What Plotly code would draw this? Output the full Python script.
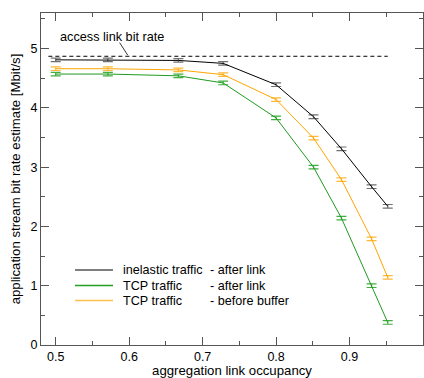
import plotly.graph_objects as go

occupancy = [0.5, 0.571, 0.667, 0.728, 0.8, 0.851, 0.889, 0.93, 0.952]
inelastic_after = [4.81, 4.81, 4.80, 4.75, 4.39, 3.85, 3.31, 2.67, 2.34]
tcp_after = [4.57, 4.57, 4.54, 4.42, 3.83, 3.00, 2.14, 1.00, 0.38]
tcp_before = [4.66, 4.66, 4.64, 4.56, 4.14, 3.49, 2.79, 1.79, 1.14]
err_inelastic = [0.03] * 9
err_tcp_after = [0.03] * 9
err_tcp_before = [0.03] * 9
access_x = [0.49, 0.952]
access_rate = [4.87, 4.87]

FONT = "Liberation Sans, Arial, sans-serif"
fig = go.Figure()

def add(y, err, col, ecol):
    fig.add_trace(go.Scatter(
        x=occupancy, y=y, mode="lines",
        line=dict(color=col, width=1),
        error_y=dict(type="data", array=err, color=ecol, thickness=1.2, width=5),
        showlegend=False, hoverinfo="skip"))

add(tcp_after, err_tcp_after, "#1f9a1f", "#40b040")
add(tcp_before, err_tcp_before, "#ffa500", "#ffb838")
add(inelastic_after, err_inelastic, "#000000", "#707070")

fig.add_trace(go.Scatter(x=access_x, y=access_rate, mode="lines",
                         line=dict(color="black", width=1, dash="4px,3px"),
                         showlegend=False, hoverinfo="skip"))

axis_common = dict(
    showgrid=False, zeroline=False, showline=True, linecolor="#555555", linewidth=1,
    mirror="allticks", ticks="inside", ticklen=8, tickcolor="#555555", tickwidth=1,
    tickfont=dict(family=FONT, size=12.5, color="black"),
)
fig.update_xaxes(range=[0.48, 1.0], tickvals=[0.5, 0.6, 0.7, 0.8, 0.9, 1.0],
                 ticktext=["0.5", "0.6", "0.7", "0.8", "0.9", "1"],
                 minor=dict(dtick=0.05, tick0=0.5, ticks="inside", ticklen=4, tickcolor="#555555"),
                 title=dict(text="aggregation link occupancy", font=dict(family=FONT, size=13.2, color="black"), standoff=3),
                 **axis_common)
fig.update_yaxes(range=[0, 5.6], tickvals=[0, 1, 2, 3, 4, 5],
                 minor=dict(dtick=0.5, tick0=0, ticks="inside", ticklen=4, tickcolor="#555555"),
                 title=dict(text="application stream bit rate estimate [Mbit/s]", font=dict(family=FONT, size=13.2, color="black"), standoff=6),
                 **axis_common)

# access link annotation
fig.add_annotation(x=0.577, y=5.2, text="access link bit rate", showarrow=False,
                   font=dict(family=FONT, size=12.7, color="black"), xanchor="center", yanchor="middle")
fig.add_shape(type="line", x0=0.587, y0=5.10, x1=0.598, y1=4.89, line=dict(color="black", width=0.8))

# legend (manual)
leg = [("inelastic traffic", "- after link", "#555555", 270),
       ("TCP traffic", "- after link", "#22a022", 285.5),
       ("TCP traffic", "- before buffer", "#ffc050", 300.5)]
W, H = 424, 378
for name, suffix, col, py in leg:
    yy = (345 - py) / 332
    fig.add_shape(type="line", xref="paper", yref="paper", x0=(75 - 41) / 382, x1=(113 - 41) / 382,
                  y0=yy, y1=yy, line=dict(color=col, width=1.3))
    fig.add_annotation(xref="paper", yref="paper", x=(121 - 41) / 382, y=yy, text=name,
                       showarrow=False, xanchor="left", yanchor="middle",
                       font=dict(family=FONT, size=12.6, color="black"))
    fig.add_annotation(xref="paper", yref="paper", x=(208 - 41) / 382, y=yy, text=suffix,
                       showarrow=False, xanchor="left", yanchor="middle",
                       font=dict(family=FONT, size=12.6, color="black"))

fig.update_layout(width=W, height=H, margin=dict(l=41, r=1, t=13, b=33),
                  plot_bgcolor="white", paper_bgcolor="white",
                  font=dict(family=FONT, size=12, color="black"))
fig.write_html("out.html")
